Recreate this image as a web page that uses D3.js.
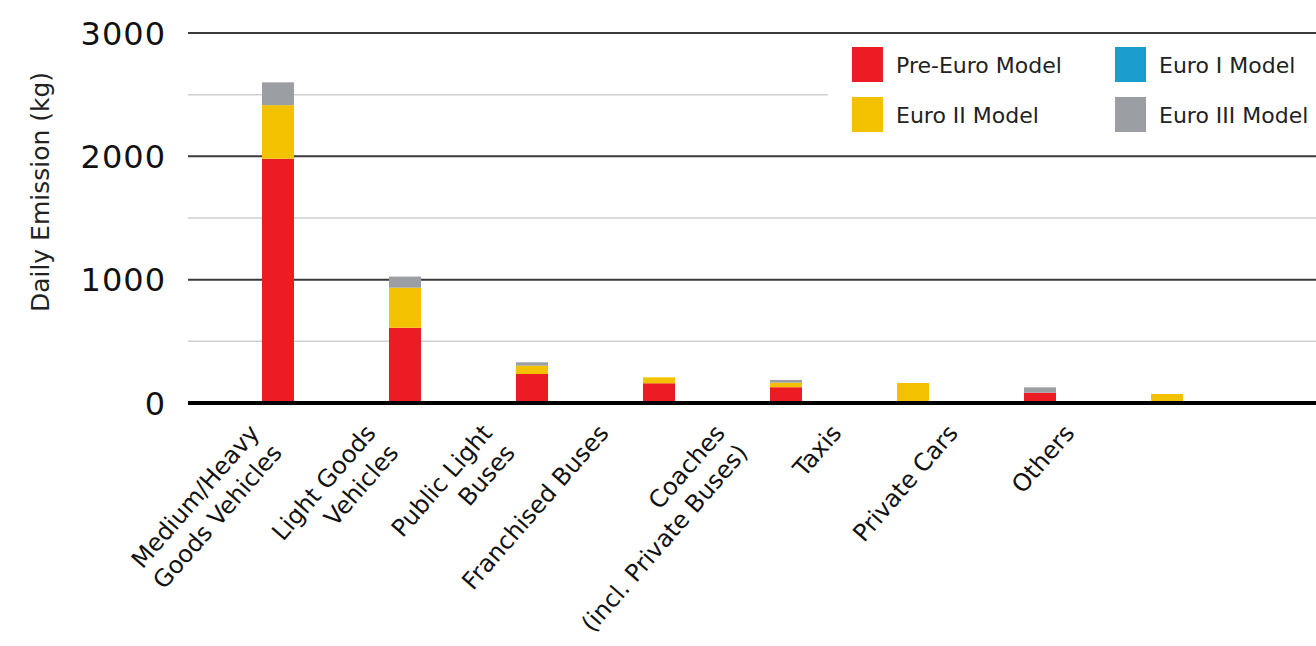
<!DOCTYPE html>
<html>
<head>
<meta charset="utf-8">
<script src="https://cdn.jsdelivr.net/npm/d3@7"></script>
<style>
  body { margin: 0; background: #fff; }
  svg { display: block; font-family: "DejaVu Sans", sans-serif; }
</style>
</head>
<body>
<svg width="1316" height="646"></svg>
<script>
// categories, one line per array item
let categories = [
  ["Medium/Heavy", "Goods Vehicles"],
  ["Light Goods", "Vehicles"],
  ["Public Light", "Buses"],
  ["Franchised Buses"],
  ["Coaches", "(incl. Private Buses)"],
  ["Taxis"],
  ["Private Cars"],
  ["Others"]
];

// daily emission (kg) per emission standard
let preEuro = [1980, 610, 235, 160, 128, 0, 84, 0],
    euroI   = [0, 0, 0, 0, 0, 0, 0, 0],
    euroII  = [435, 325, 68, 48, 37, 162, 0, 73],
    euroIII = [185, 90, 27, 0, 22, 0, 43, 0];

let seriesNames = ["Pre-Euro Model", "Euro I Model", "Euro II Model", "Euro III Model"],
    majorTicks = [0, 1000, 2000, 3000],
    minorTicks = [500, 1500, 2500];

let svg = d3.select("svg"),
    width = +svg.attr("width"),
    height = +svg.attr("height");

let color = d3.scaleOrdinal()
    .domain(seriesNames)
    .range(["#ec1c24", "#1a9ccc", "#f2c200", "#9b9ea3"]);

let rows = categories.map(function(c, i) {
  return {
    key: i,
    "Pre-Euro Model": preEuro[i],
    "Euro I Model": euroI[i],
    "Euro II Model": euroII[i],
    "Euro III Model": euroIII[i]
  };
});

let x = d3.scaleBand()
    .domain(d3.range(categories.length))
    .range([214.5, 1230.5])
    .paddingInner(0.748)
    .paddingOuter(0.374);

// labels sit on their own slightly tighter spacing, like the original
let xLabel = d3.scalePoint()
    .domain(d3.range(categories.length))
    .range([247, 1062]);

let y = d3.scaleLinear().domain([0, 3000]).range([403, 33]);

let left = 188;

// grid lines
svg.append("g").selectAll("line")
  .data(minorTicks)
  .enter().append("line")
    .attr("x1", left).attr("x2", width)
    .attr("y1", function(d) { return y(d); })
    .attr("y2", function(d) { return y(d); })
    .attr("stroke", "#cfcfcf").attr("stroke-width", 1.5);

svg.append("g").selectAll("line")
  .data(majorTicks.filter(function(d) { return d > 0; }))
  .enter().append("line")
    .attr("x1", left).attr("x2", width)
    .attr("y1", function(d) { return y(d); })
    .attr("y2", function(d) { return y(d); })
    .attr("stroke", "#3a3a3a").attr("stroke-width", 2);

// y tick labels
svg.append("g").selectAll("text")
  .data(majorTicks)
  .enter().append("text")
    .attr("x", 166)
    .attr("y", function(d) { return y(d); })
    .attr("dy", "0.36em")
    .attr("text-anchor", "end")
    .attr("font-size", 32)
    .attr("letter-spacing", 1)
    .attr("fill", "#111")
    .text(function(d) { return d; });

svg.append("text")
  .attr("transform", "translate(40,192) rotate(-90)")
  .attr("dy", "0.35em")
  .attr("text-anchor", "middle")
  .attr("font-size", 25)
  .attr("fill", "#222")
  .text("Daily Emission (kg)");

// stacked bars
let stack = d3.stack().keys(seriesNames)(rows);

svg.append("g").selectAll("g")
  .data(stack)
  .enter().append("g")
    .attr("fill", function(d) { return color(d.key); })
  .selectAll("rect")
  .data(function(d) { return d; })
  .enter().append("rect")
    .attr("x", function(d) { return x(d.data.key); })
    .attr("width", x.bandwidth())
    .attr("y", function(d) { return y(d[1]); })
    .attr("height", function(d) { return y(d[0]) - y(d[1]); });

// baseline
svg.append("line")
  .attr("x1", left).attr("x2", width)
  .attr("y1", y(0)).attr("y2", y(0))
  .attr("stroke", "#000").attr("stroke-width", 4);

// x labels
let labels = svg.append("g").selectAll("text")
  .data(categories)
  .enter().append("text")
    .attr("transform", function(d, i) { return "translate(" + xLabel(i) + ",422) rotate(-49)"; })
    .attr("text-anchor", "end")
    .attr("font-size", 24)
    .attr("fill", "#111");

labels.selectAll("tspan")
  .data(function(d) { return d; })
  .enter().append("tspan")
    .attr("x", 0)
    .attr("dy", function(d, i) { return i === 0 ? "0.75em" : "1.25em"; })
    .text(function(d) { return d; });

// legend
let legend = svg.append("g");
legend.append("rect")
  .attr("x", 828).attr("y", 37)
  .attr("width", width - 828).attr("height", 108)
  .attr("fill", "#fff");

let legendPos = [[852, 47], [1115, 47], [852, 97], [1115, 97]];

let item = legend.selectAll(".item")
  .data(seriesNames)
  .enter().append("g")
    .attr("class", "item")
    .attr("transform", function(d, i) { return "translate(" + legendPos[i][0] + "," + legendPos[i][1] + ")"; });

item.append("rect")
  .attr("width", 31).attr("height", 35)
  .attr("fill", function(d) { return color(d); });

item.append("text")
  .attr("x", 44).attr("y", 18)
  .attr("dy", "0.36em")
  .attr("font-size", 22)
  .attr("fill", "#222")
  .text(function(d) { return d; });
</script>
</body>
</html>
